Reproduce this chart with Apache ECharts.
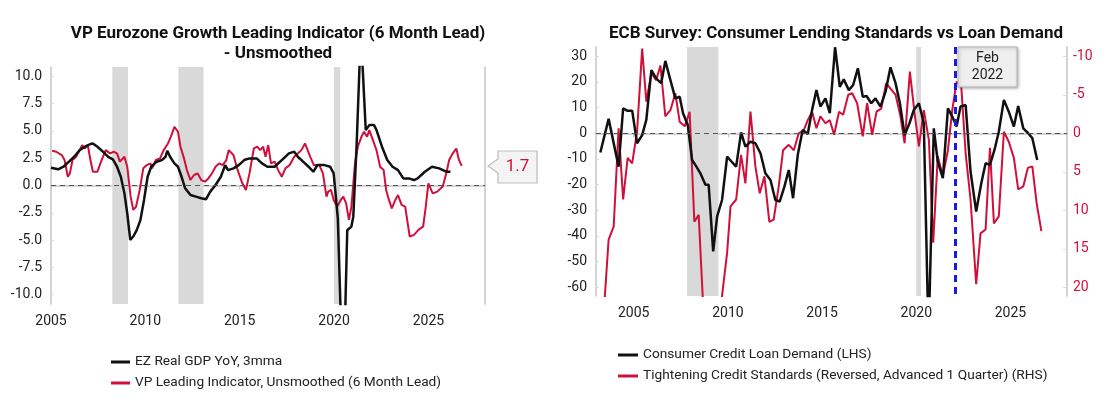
<!DOCTYPE html>
<html>
<head>
<meta charset="utf-8">
<script src="https://cdn.jsdelivr.net/npm/echarts@6/dist/echarts.min.js"></script>
<style>
  html, body { margin: 0; padding: 0; background: #fff; }
  #main { width: 1120px; height: 402px; }
</style>
</head>
<body>
<div id="main"></div>
<script>
// ---- left chart data: [year, value]
const gdpYoY = [
  [2005.0,1.63],[2005.38,1.48],[2005.66,1.72],[2005.95,2.18],[2006.23,2.63],[2006.52,3.24],[2006.8,3.55],
  [2007.09,3.8],[2007.22,3.85],[2007.46,3.55],[2007.75,3.1],[2008.03,2.63],[2008.28,2.4],[2008.5,1.72],
  [2008.7,0.8],[2008.89,-0.7],[2009.04,-2.54],[2009.2,-4.98],[2009.36,-4.67],[2009.55,-4.06],[2009.74,-3.15],
  [2009.93,-1.32],[2010.12,0.8],[2010.31,1.72],[2010.6,2.18],[2010.88,2.33],[2011.07,2.63],[2011.16,3.18],
  [2011.31,2.63],[2011.54,2.02],[2011.73,1.72],[2011.92,0.8],[2012.11,-0.26],[2012.39,-0.87],[2012.68,-1.02],
  [2012.96,-1.17],[2013.21,-1.26],[2013.44,-0.56],[2013.72,0.05],[2014.0,0.8],[2014.23,1.87],[2014.38,1.41],
  [2014.67,1.57],[2014.95,1.87],[2015.24,2.33],[2015.52,2.48],[2015.9,2.48],[2016.18,2.02],[2016.47,1.72],
  [2016.85,1.72],[2017.23,2.33],[2017.61,2.94],[2017.89,3.1],[2018.08,2.63],[2018.36,2.18],[2018.65,1.72],
  [2018.9,1.26],[2019.12,1.87],[2019.5,1.87],[2019.79,1.72],[2019.98,1.11],[2020.12,-1.5],[2020.2,-3.0],
  [2020.4,-14.5],[2020.55,-14.5],[2020.7,-4.1],[2020.92,-3.76],[2021.02,-2.85],[2021.2,3.85],[2021.42,14.2],
  [2021.52,14.2],[2021.68,5.07],[2021.87,5.53],[2022.12,5.53],[2022.25,5.07],[2022.54,3.55],[2022.82,2.33],
  [2023.1,1.72],[2023.39,1.41],[2023.67,0.65],[2023.96,0.65],[2024.24,0.5],[2024.43,0.65],[2024.81,1.26],
  [2025.19,1.72],[2025.57,1.57],[2025.95,1.26],[2026.17,1.26]
];
const vpLeading = [
  [2005.06,3.18],[2005.28,3.09],[2005.57,2.79],[2005.72,2.33],[2005.89,0.8],[2006.0,1.11],[2006.14,2.33],
  [2006.33,2.63],[2006.52,3.24],[2006.65,3.7],[2006.8,3.39],[2006.95,3.7],[2007.09,2.33],[2007.22,1.26],
  [2007.46,1.26],[2007.65,2.18],[2007.9,3.24],[2008.13,2.94],[2008.32,3.09],[2008.5,2.94],[2008.65,2.18],
  [2008.89,2.63],[2009.04,1.72],[2009.22,-1.02],[2009.36,-2.24],[2009.51,-1.93],[2009.7,-0.41],[2009.89,1.57],
  [2010.08,1.87],[2010.27,2.02],[2010.36,1.57],[2010.55,2.33],[2010.78,2.48],[2010.97,3.24],[2011.2,3.85],
  [2011.35,4.46],[2011.54,5.37],[2011.73,4.92],[2011.86,3.55],[2012.05,2.48],[2012.2,1.41],[2012.39,0.5],
  [2012.58,0.96],[2012.77,1.11],[2012.96,0.5],[2013.15,0.35],[2013.34,0.65],[2013.53,1.11],[2013.72,1.72],
  [2013.91,2.02],[2014.1,1.87],[2014.29,2.33],[2014.42,3.24],[2014.67,2.79],[2014.86,1.57],[2015.14,0.2],
  [2015.33,-0.41],[2015.52,1.11],[2015.75,3.39],[2015.93,3.55],[2016.09,3.24],[2016.24,3.55],[2016.37,2.63],
  [2016.51,3.7],[2016.66,2.02],[2016.85,2.18],[2017.04,1.41],[2017.23,0.8],[2017.42,1.57],[2017.65,1.87],
  [2017.89,2.63],[2018.08,2.94],[2018.27,3.24],[2018.46,3.85],[2018.6,3.24],[2018.74,2.63],[2018.93,1.87],
  [2019.22,1.87],[2019.41,1.11],[2019.6,-1.02],[2019.69,-0.56],[2019.84,-0.41],[2019.98,-1.32],[2020.17,-1.93],
  [2020.36,-1.32],[2020.49,-1.02],[2020.64,-1.63],[2020.79,-3.15],[2020.92,-1.93],[2021.11,2.02],[2021.26,3.55],
  [2021.45,4.46],[2021.59,4.92],[2021.75,4.46],[2021.87,5.07],[2022.06,4.16],[2022.25,3.24],[2022.44,1.72],
  [2022.63,1.41],[2022.76,-0.41],[2022.91,-1.32],[2023.06,-2.09],[2023.25,-1.32],[2023.39,-0.87],[2023.58,-1.78],
  [2023.77,-1.93],[2024.01,-4.67],[2024.24,-4.52],[2024.47,-4.06],[2024.72,-3.76],[2024.85,-2.09],[2025.0,0.2],
  [2025.23,-0.72],[2025.47,-0.56],[2025.76,-0.1],[2025.95,1.11],[2026.1,2.33],[2026.29,2.94],[2026.48,3.39],
  [2026.62,2.33],[2026.77,1.8]
];
const leftRecessions = [[2008.25, 2009.08], [2011.75, 2013.08], [2020.0, 2020.33]];
const leftYTicks = [-10, -7.5, -5, -2.5, 0, 2.5, 5, 7.5, 10];
const yearTicks = [2005, 2010, 2015, 2020, 2025];
const lastLeading = '1.7';

// ---- right chart data: [year, value]
const loanDemand = [
  [2003.23,-7.5],[2003.67,5.6],[2004.2,-13.0],[2004.44,9.7],[2004.65,8.8],[2004.92,8.8],[2005.18,-3.9],
  [2005.45,-0.7],[2005.67,5.2],[2005.94,24.6],[2006.19,21.4],[2006.46,19.5],[2006.68,28.2],[2006.95,20.7],
  [2007.21,13.6],[2007.44,14.2],[2007.62,7.8],[2007.87,3.2],[2008.1,-10.4],[2008.33,-13.0],[2008.54,-15.6],
  [2008.81,-20.1],[2008.98,-20.1],[2009.22,-46.0],[2009.43,-32.4],[2009.69,-26.0],[2009.96,-9.1],[2010.19,-11.0],
  [2010.44,-13.0],[2010.7,0.3],[2010.93,-5.2],[2011.2,-3.3],[2011.46,-3.9],[2011.73,-7.8],[2011.99,-15.6],
  [2012.26,-18.2],[2012.52,-26.0],[2012.75,-26.6],[2013.0,-20.8],[2013.23,-14.3],[2013.46,-25.3],[2013.71,-8.4],
  [2013.97,1.3],[2014.24,-0.3],[2014.47,9.1],[2014.7,16.8],[2014.91,10.4],[2015.18,13.6],[2015.41,7.8],
  [2015.69,33.5],[2015.94,18.1],[2016.15,21.0],[2016.42,16.8],[2016.65,18.8],[2016.9,25.3],[2017.16,14.2],
  [2017.36,14.5],[2017.61,11.7],[2017.83,13.6],[2018.1,10.4],[2018.37,16.2],[2018.63,25.7],[2018.9,19.5],
  [2019.13,11.7],[2019.38,-0.7],[2019.64,3.9],[2019.87,9.1],[2020.14,11.7],[2020.4,3.9],[2020.65,-80],
  [2020.93,1.9],[2021.14,-11.0],[2021.41,-17.5],[2021.68,9.7],[2021.91,6.5],[2022.14,2.6],[2022.35,10.4],
  [2022.62,11.0],[2022.88,-14.9],[2023.18,-30.5],[2023.45,-19.5],[2023.68,-11.7],[2023.91,-12.3],[2024.15,-6.5],
  [2024.38,0.6],[2024.65,13.0],[2024.91,8.4],[2025.18,2.6],[2025.41,10.6],[2025.68,1.9],[2025.94,0.0],
  [2026.16,-1.9],[2026.42,-10.4]
];
const creditStandards = [
  [2003.42,23],[2003.67,13.8],[2003.94,12.1],[2004.2,-0.65],[2004.44,8.6],[2004.68,3.2],[2004.92,3.9],
  [2005.18,-0.2],[2005.45,-11.0],[2005.67,-4.1],[2005.94,-7.8],[2006.19,-6.9],[2006.42,-8.8],[2006.68,-2.2],
  [2006.95,-3.0],[2007.21,-5.2],[2007.44,-1.5],[2007.71,-0.9],[2007.97,-2.8],[2008.22,11.5],[2008.45,10.6],
  [2008.72,24],[2009.1,32],[2009.55,24],[2009.96,15.5],[2010.14,9.5],[2010.44,8.6],[2010.7,2.8],
  [2010.93,6.5],[2011.2,-2.8],[2011.46,4.3],[2011.69,7.8],[2011.94,5.6],[2012.2,11.5],[2012.43,11.2],
  [2012.7,6.9],[2012.93,2.2],[2013.23,1.5],[2013.5,2.2],[2013.76,0.0],[2014.03,-0.4],[2014.24,-1.7],
  [2014.47,-2.8],[2014.7,-0.65],[2014.91,-2.2],[2015.18,-1.3],[2015.41,-1.7],[2015.64,0.2],[2015.9,-2.8],
  [2016.12,-2.4],[2016.39,-5.0],[2016.6,-5.2],[2016.86,-3.9],[2017.16,0.4],[2017.39,-3.9],[2017.66,0.2],
  [2017.89,-2.8],[2018.14,-3.2],[2018.4,-6.5],[2018.63,-5.8],[2018.9,-5.0],[2019.16,-2.2],[2019.38,1.3],
  [2019.66,-8.0],[2019.91,-2.6],[2020.14,1.7],[2020.4,-3.0],[2020.67,0.9],[2020.9,14.2],[2021.14,3.0],
  [2021.41,5.6],[2021.68,2.2],[2021.91,-3.0],[2022.14,-6.7],[2022.39,-6.0],[2022.62,2.6],[2022.88,8.6],
  [2023.18,19.6],[2023.41,13.0],[2023.68,12.5],[2023.91,1.9],[2024.12,11.7],[2024.38,10.8],[2024.65,-0.2],
  [2024.91,1.1],[2025.18,3.2],[2025.41,7.3],[2025.68,6.9],[2025.92,4.5],[2026.16,4.3],[2026.39,9.1],
  [2026.64,12.7]
];
const rightRecessions = [[2007.83, 2009.5], [2020.0, 2020.25]];
const leftAxisTicks = [-60, -50, -40, -30, -20, -10, 0, 10, 20, 30];
const rightAxisTicks = [-10, -5, 0, 5, 10, 15, 20];
const markerYear = 2022.08;

const RED = '#d0103a';
const BLACK = '#111111';
const AXIS = '#c4c4c4';
const FONT = 'Roboto';

var chart = echarts.init(document.getElementById('main'));

function shade(list) {
  return {
    silent: true,
    itemStyle: { color: '#d9d9d9' },
    data: list.map(function (r) { return [{ xAxis: r[0] }, { xAxis: r[1] }]; })
  };
}
function zeroLine() {
  return {
    silent: true, symbol: 'none', label: { show: false },
    lineStyle: { color: '#555', type: [5, 4], width: 1.2 },
    data: [{ yAxis: 0 }]
  };
}
function xAxisOf(idx, min) {
  return {
    type: 'value', gridIndex: idx, min: min, max: 2028,
    splitLine: { show: false },
    axisLine: { lineStyle: { color: AXIS, width: 1.5 } },
    axisTick: { customValues: yearTicks, length: 4, lineStyle: { color: AXIS } },
    axisLabel: {
      customValues: yearTicks, color: '#222', fontSize: 14, fontFamily: FONT, margin: 10,
      formatter: function (v) { return String(v); }
    }
  };
}

var option = {
  animation: false,
  title: [
    {
      text: 'VP Eurozone Growth Leading Indicator (6 Month Lead)\n- Unsmoothed',
      left: 273, top: 19, textAlign: 'center',
      textStyle: { fontFamily: FONT, fontWeight: 'bold', fontSize: 17, color: '#111', lineHeight: 20 }
    },
    {
      text: 'ECB Survey: Consumer Lending Standards vs Loan Demand',
      left: 831, top: 19, textAlign: 'center',
      textStyle: { fontFamily: FONT, fontWeight: 'bold', fontSize: 17, color: '#111', lineHeight: 20 }
    }
  ],
  legend: [
    {
      data: ['EZ Real GDP YoY, 3mma', 'VP Leading Indicator, Unsmoothed (6 Month Lead)'],
      orient: 'vertical', left: 106, top: 350, itemGap: 7,
      icon: 'rect', itemWidth: 19, itemHeight: 3,
      textStyle: { fontFamily: FONT, fontSize: 13.7, color: '#222' }
    },
    {
      data: ['Consumer Credit Loan Demand (LHS)', 'Tightening Credit Standards (Reversed, Advanced 1 Quarter) (RHS)'],
      orient: 'vertical', left: 613, top: 343, itemGap: 7,
      icon: 'rect', itemWidth: 20, itemHeight: 3,
      textStyle: { fontFamily: FONT, fontSize: 13.7, color: '#222' }
    }
  ],
  grid: [
    { left: 51, top: 67, width: 434, height: 237 },
    { left: 596, top: 47, width: 471, height: 249 }
  ],
  xAxis: [xAxisOf(0, 2005), xAxisOf(1, 2003)],
  yAxis: [
    {
      type: 'value', gridIndex: 0, min: -10.85, max: 10.85,
      splitLine: { show: false },
      axisLine: { show: true, lineStyle: { color: AXIS, width: 1.5 } },
      axisTick: { show: true, inside: true, length: 3, customValues: leftYTicks, lineStyle: { color: '#ddd' } },
      axisLabel: {
        customValues: leftYTicks, color: '#222', fontSize: 14, fontFamily: FONT, margin: 9,
        formatter: function (v) { return v.toFixed(1); }
      }
    },
    {
      type: 'value', gridIndex: 0, position: 'right', min: -10.85, max: 10.85,
      splitLine: { show: false },
      axisLine: { show: true, lineStyle: { color: AXIS, width: 1.5 } },
      axisTick: { show: false }, axisLabel: { show: false }
    },
    {
      type: 'value', gridIndex: 1, min: -63.4, max: 33.6,
      splitLine: { show: false },
      axisLine: { show: true, lineStyle: { color: AXIS, width: 1.5 } },
      axisTick: { show: true, inside: true, length: 3, customValues: leftAxisTicks, lineStyle: { color: '#ddd' } },
      axisLabel: { customValues: leftAxisTicks, color: '#222', fontSize: 14, fontFamily: FONT, margin: 9 }
    },
    {
      type: 'value', gridIndex: 1, position: 'right', inverse: true, min: -11.2, max: 21.13,
      splitLine: { show: false },
      axisLine: { show: true, lineStyle: { color: AXIS, width: 1.5 } },
      axisTick: { show: true, inside: true, length: 4, customValues: rightAxisTicks, lineStyle: { color: '#ddd' } },
      axisLabel: { customValues: rightAxisTicks, color: RED, fontSize: 14, fontFamily: FONT, margin: 6 }
    }
  ],
  series: [
    {
      name: 'EZ Real GDP YoY, 3mma', type: 'line', xAxisIndex: 0, yAxisIndex: 0,
      data: gdpYoY, showSymbol: false, color: BLACK, lineStyle: { width: 2.5, color: BLACK }, z: 3,
      markArea: shade(leftRecessions), markLine: zeroLine()
    },
    {
      name: 'VP Leading Indicator, Unsmoothed (6 Month Lead)', type: 'line', xAxisIndex: 0, yAxisIndex: 0,
      data: vpLeading, showSymbol: false, color: RED, lineStyle: { width: 2, color: RED }, z: 2
    },
    {
      name: 'Consumer Credit Loan Demand (LHS)', type: 'line', xAxisIndex: 1, yAxisIndex: 2,
      data: loanDemand, showSymbol: false, color: BLACK, lineStyle: { width: 2.5, color: BLACK }, z: 3,
      markArea: shade(rightRecessions), markLine: zeroLine()
    },
    {
      name: 'Tightening Credit Standards (Reversed, Advanced 1 Quarter) (RHS)', type: 'line',
      xAxisIndex: 1, yAxisIndex: 3,
      data: creditStandards, showSymbol: false, color: RED, lineStyle: { width: 2, color: RED }, z: 2,
      markLine: {
        silent: true, symbol: 'none', label: { show: false },
        lineStyle: { color: '#1a1ae0', type: [7, 5], width: 3 },
        data: [{ xAxis: markerYear }]
      }
    }
  ],
  graphic: [
    {
      type: 'polygon',
      shape: { points: [[488, 166], [498, 159], [498, 151], [537, 151], [537, 183], [498, 183], [498, 173]] },
      style: { fill: '#f4f4f4', stroke: '#bdbdbd', lineWidth: 1.2 }, z: 10
    },
    {
      type: 'text', x: 517.5, y: 167,
      style: { text: lastLeading, fill: RED, fontSize: 17, fontFamily: FONT, align: 'center', verticalAlign: 'middle' }, z: 11
    },
    {
      type: 'rect', shape: { x: 958, y: 47, width: 59, height: 40 },
      style: { fill: '#efefef', stroke: '#b5b5b5', lineWidth: 1, shadowBlur: 3, shadowColor: 'rgba(0,0,0,0.3)', shadowOffsetX: 1, shadowOffsetY: 1 }, z: 10
    },
    {
      type: 'text', x: 987.5, y: 67,
      style: { text: 'Feb\n2022', fill: '#222', fontSize: 14, fontFamily: FONT, align: 'center', verticalAlign: 'middle', lineHeight: 17 }, z: 11
    }
  ]
};
chart.setOption(option);
</script>
</body>
</html>
